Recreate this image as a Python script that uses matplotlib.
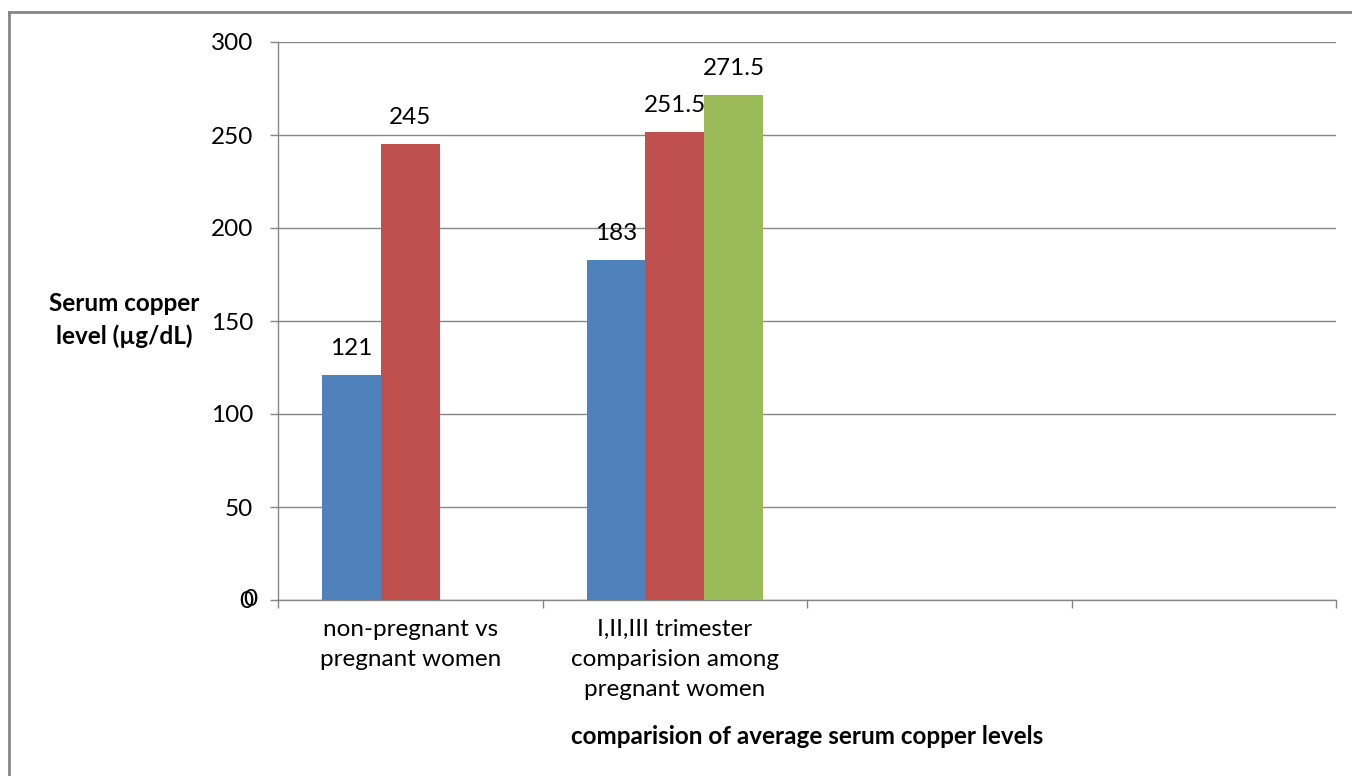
import matplotlib.pyplot as plt
import numpy as np

plt.rcParams['font.family'] = ['Lato', 'DejaVu Sans']

# Chart data
categories = ["non-pregnant vs\npregnant women",
              "I,II,III trimester\ncomparision among\npregnant women",
              "", ""]
series_blue = [121, 183, np.nan, np.nan]
series_red = [245, 251.5, np.nan, np.nan]
series_green = [np.nan, 271.5, np.nan, np.nan]
y_ticks = [0, 50, 100, 150, 200, 250, 300]

colors = ["#4F81BD", "#C0504D", "#9BBB59"]
grid_col = "#868686"
fs = 17.5

fig = plt.figure(figsize=(13.52, 7.76), dpi=100)
ax = fig.add_axes([278 / 1352, 1 - 600 / 776, 1058 / 1352, 558 / 776])

# outer chart border (only left and top visible)
fig.add_artist(plt.Line2D([9 / 1352, 9 / 1352], [0, 1 - 12 / 776],
                          transform=fig.transFigure, color=grid_col, lw=2))
fig.add_artist(plt.Line2D([9 / 1352, 1], [1 - 12 / 776, 1 - 12 / 776],
                          transform=fig.transFigure, color=grid_col, lw=2))

x = np.arange(len(categories)) + 0.5
w = 1 / 4.5
for i, (vals, c) in enumerate(zip([series_blue, series_red, series_green], colors)):
    pos = x + (i - 1) * w
    ax.bar(pos, vals, width=w, color=c, zorder=3)
    for p, v in zip(pos, vals):
        if np.isnan(v):
            continue
        ax.annotate(f"{v:g}", (p, v), xytext=(0, 11.5), textcoords="offset points",
                    ha="center", va="bottom", fontsize=fs)

ax.set_xlim(0, len(categories))
ax.set_ylim(0, 300)
ax.set_yticks(y_ticks)
ax.set_yticklabels([str(t) for t in y_ticks], fontsize=fs)
ax.yaxis.grid(True, color=grid_col, lw=1, zorder=0)

# doubled zero label as in the source
ax.annotate("0", (0, 0), xycoords=ax.get_yaxis_transform(), xytext=(-15, 0),
            textcoords="offset points", ha="right", va="center", fontsize=fs)

ax.set_xticks(np.arange(len(categories) + 1))
ax.set_xticklabels([])
ax.set_xticks(x, minor=True)
ax.set_xticklabels(categories, minor=True, fontsize=fs, linespacing=1.55, va="top")
ax.tick_params(axis="x", which="minor", length=0, pad=13.5)
ax.tick_params(axis="both", which="major", length=6, color=grid_col, width=1)
ax.tick_params(axis="y", pad=12)

for s in ["top", "right"]:
    ax.spines[s].set_visible(False)
for s in ["left", "bottom"]:
    ax.spines[s].set_color(grid_col)
    ax.spines[s].set_linewidth(1)

ax.set_ylabel("Serum copper\nlevel (µg/dL)", rotation=0, ha="center", va="center",
              fontsize=fs, fontweight="bold", linespacing=1.45)
ax.yaxis.set_label_coords(-0.1456, 0.502)
ax.set_xlabel("comparision of average serum copper levels", fontsize=fs,
              fontweight="bold", va="center")
ax.xaxis.set_label_coords(0.5, -0.2455)

fig.savefig("out.png", dpi=100)
